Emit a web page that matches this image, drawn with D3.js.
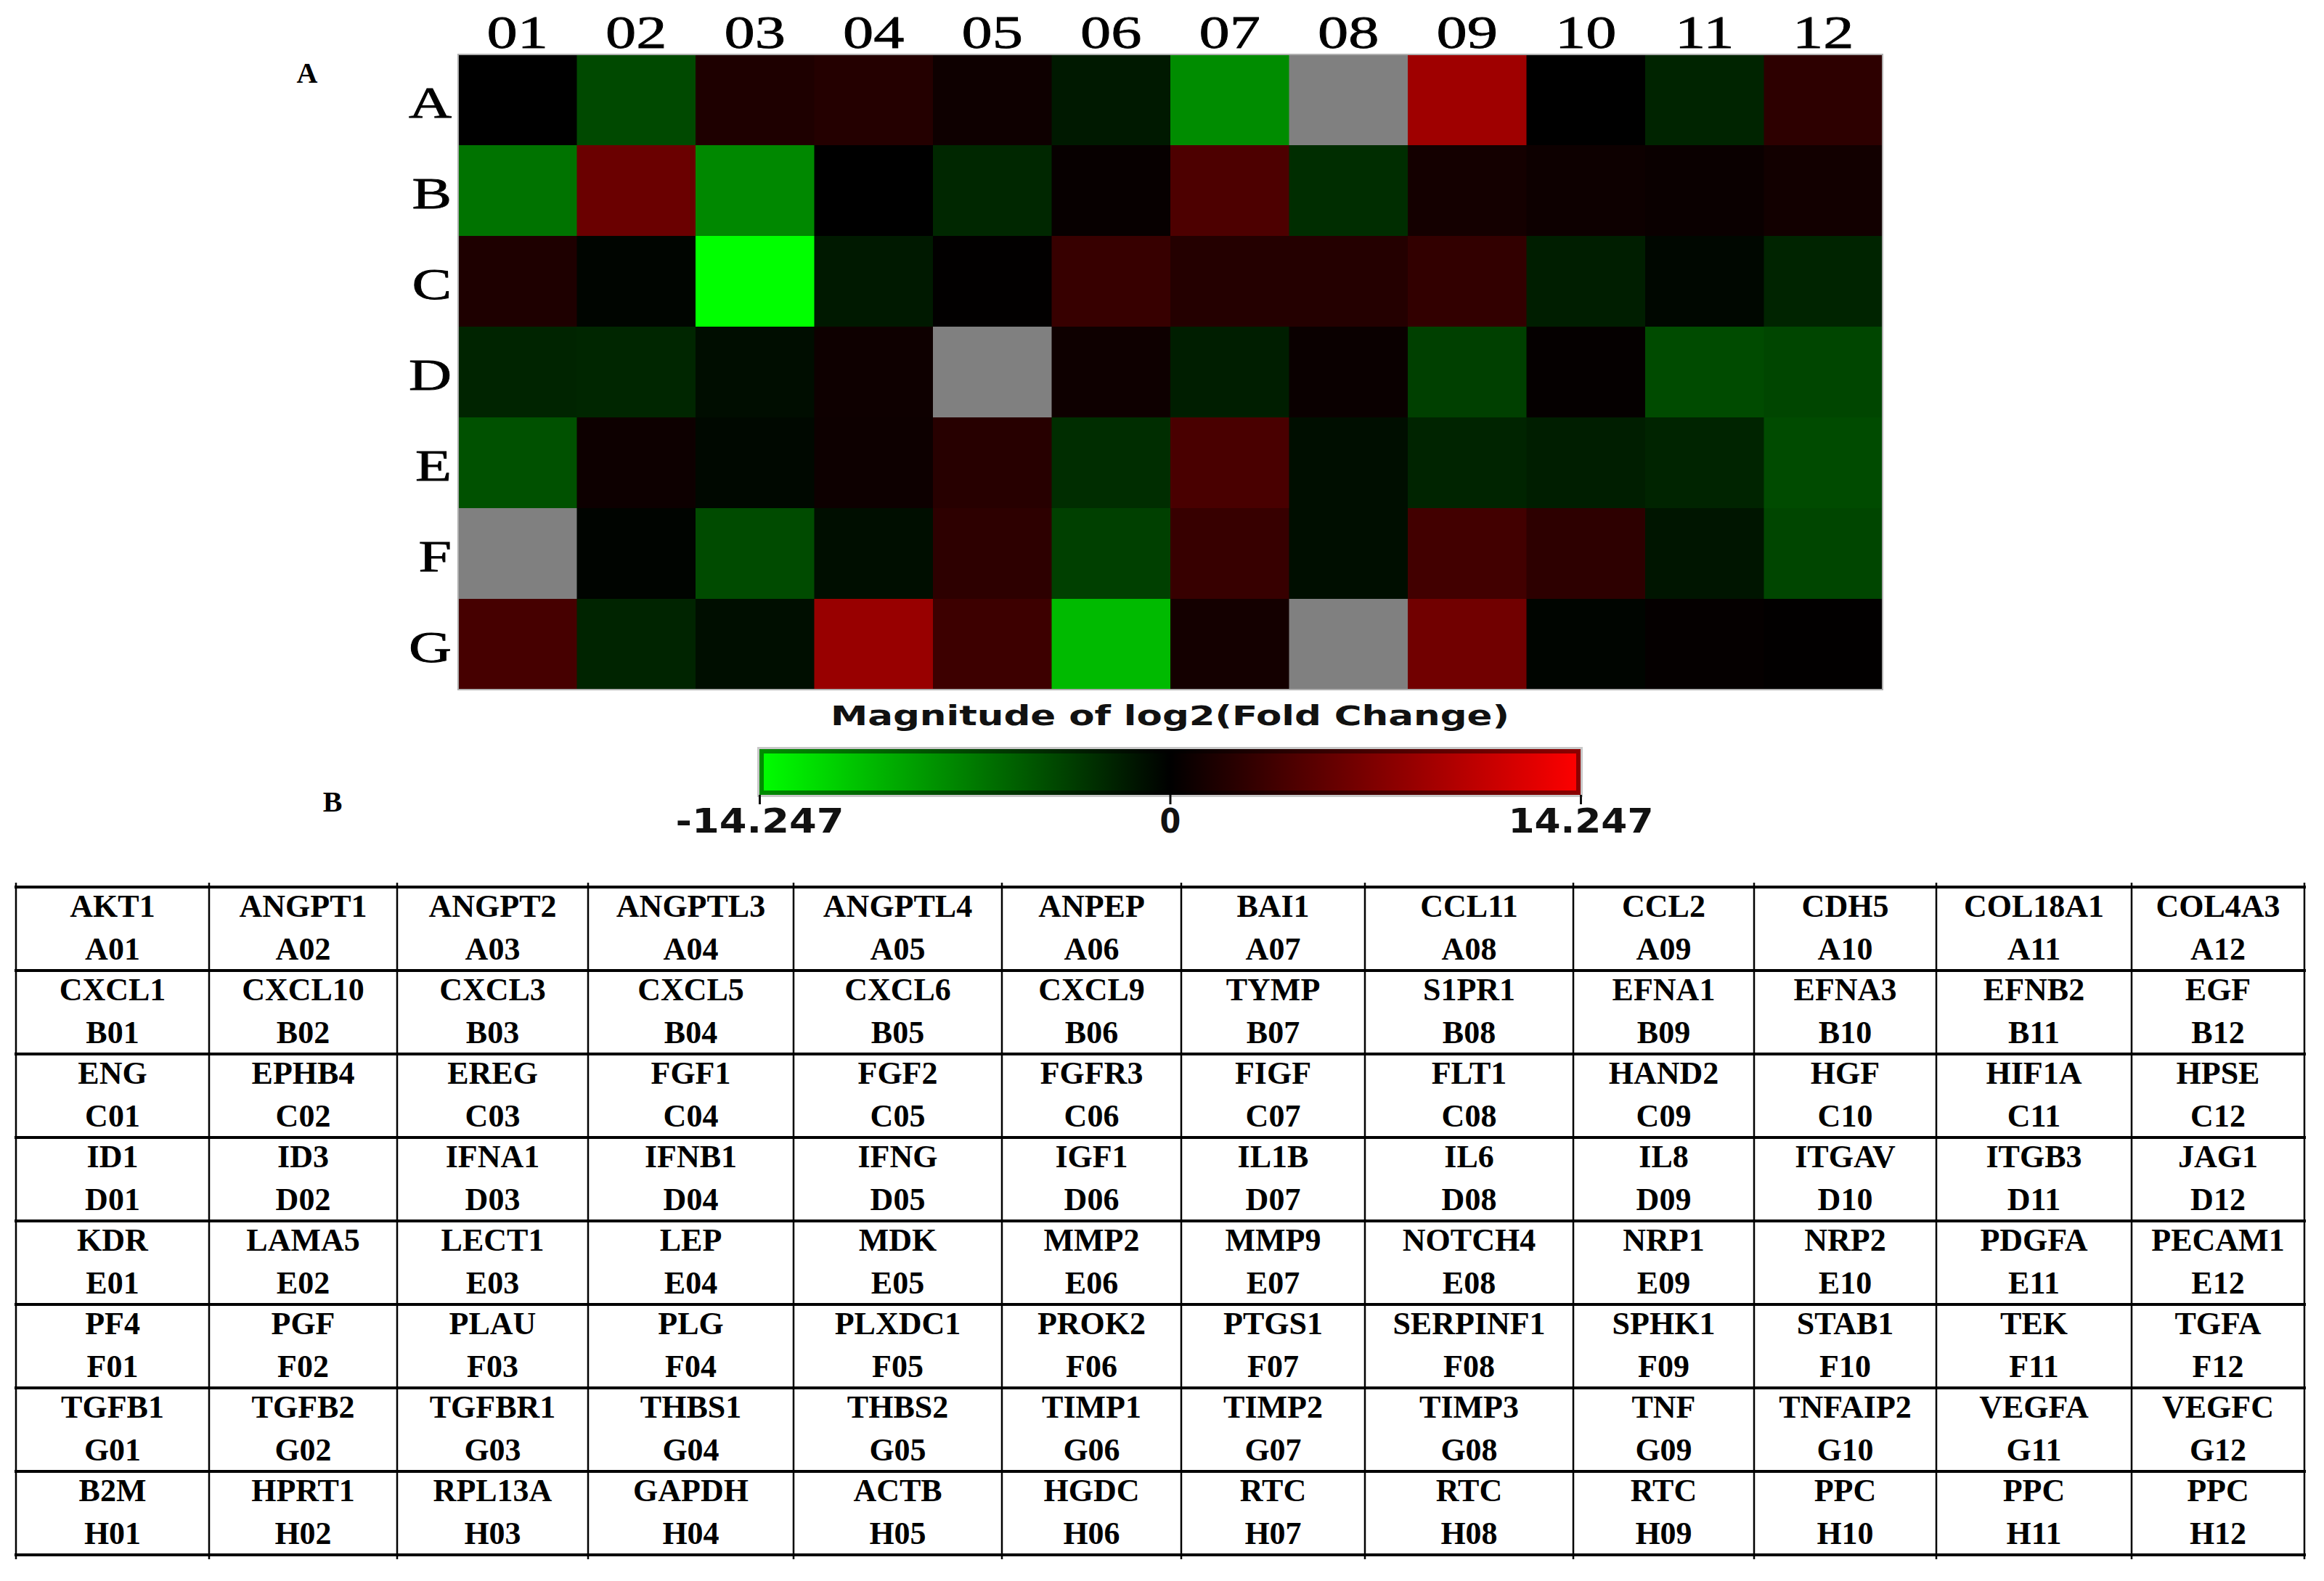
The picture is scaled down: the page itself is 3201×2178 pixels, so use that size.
<!DOCTYPE html>
<html>
<head>
  <meta charset='utf-8' />
  <title>angiogenesis array heatmap</title>
  <style>
    body { margin: 0; background: #fff; }
  </style>
</head>
<body>
<div id="wrapper"></div>
<script src='https://d3js.org/d3.v7.min.js' charset='utf-8'></script>
<script>
// plate layout: rows A-G, columns 01-12
const rowIds = ['A', 'B', 'C', 'D', 'E', 'F', 'G']
const colIds = ['01', '02', '03', '04', '05', '06', '07', '08', '09', '10', '11', '12']

// log2 fold change (null = grey well, no call)
const rowA = [0, -4.1, 1.7, 2.0, 0.8, -1.4, -7.8, null, 8.9, 0, -2.0, 2.5]
const rowB = [-6.4, 5.9, -7.6, 0, -2.2, 0.4, 4.3, -2.5, 1.1, 0.7, 0.55, 1.0]
const rowC = [1.7, -0.3, -14.247, -1.4, 0.1, 3.1, 2.0, 2.0, 2.8, -1.7, -0.4, -2.0]
const rowD = [-2.0, -2.1, -0.7, 0.8, null, 0.8, -1.7, 0.55, -3.6, 0.3, -4.2, -3.9]
const rowE = [-4.5, 0.7, -0.45, 0.7, 2.2, -2.5, 4.1, -0.8, -2.0, -1.7, -2.0, -4.2]
const rowF = [null, -0.2, -4.2, -0.8, 2.5, -3.6, 3.1, -0.8, 3.7, 2.5, -1.2, -3.9]
const rowG = [3.9, -2.0, -0.8, 8.5, 3.4, -10.4, 1.1, null, 6.3, -0.3, 0.3, 0.1]
const foldChange = [rowA, rowB, rowC, rowD, rowE, rowF, rowG]

// colour bar
const colorDomain = [-14.247, 0, 14.247]
const colorbarTicks = [-14.247, 0, 14.247]

// panel B table: gene on each well, rows A-H
const tableRows = ['A', 'B', 'C', 'D', 'E', 'F', 'G', 'H']
const genesA = ['AKT1', 'ANGPT1', 'ANGPT2', 'ANGPTL3', 'ANGPTL4', 'ANPEP', 'BAI1', 'CCL11', 'CCL2', 'CDH5', 'COL18A1', 'COL4A3']
const genesB = ['CXCL1', 'CXCL10', 'CXCL3', 'CXCL5', 'CXCL6', 'CXCL9', 'TYMP', 'S1PR1', 'EFNA1', 'EFNA3', 'EFNB2', 'EGF']
const genesC = ['ENG', 'EPHB4', 'EREG', 'FGF1', 'FGF2', 'FGFR3', 'FIGF', 'FLT1', 'HAND2', 'HGF', 'HIF1A', 'HPSE']
const genesD = ['ID1', 'ID3', 'IFNA1', 'IFNB1', 'IFNG', 'IGF1', 'IL1B', 'IL6', 'IL8', 'ITGAV', 'ITGB3', 'JAG1']
const genesE = ['KDR', 'LAMA5', 'LECT1', 'LEP', 'MDK', 'MMP2', 'MMP9', 'NOTCH4', 'NRP1', 'NRP2', 'PDGFA', 'PECAM1']
const genesF = ['PF4', 'PGF', 'PLAU', 'PLG', 'PLXDC1', 'PROK2', 'PTGS1', 'SERPINF1', 'SPHK1', 'STAB1', 'TEK', 'TGFA']
const genesG = ['TGFB1', 'TGFB2', 'TGFBR1', 'THBS1', 'THBS2', 'TIMP1', 'TIMP2', 'TIMP3', 'TNF', 'TNFAIP2', 'VEGFA', 'VEGFC']
const genesH = ['B2M', 'HPRT1', 'RPL13A', 'GAPDH', 'ACTB', 'HGDC', 'RTC', 'RTC', 'RTC', 'PPC', 'PPC', 'PPC']
const genes = [genesA, genesB, genesC, genesD, genesE, genesF, genesG, genesH]

// layout
const width = 3201
const height = 2178
const heat = { left: 631, right: 2593, top: 75, bottom: 950 }
const bar = { left: 1046, right: 2177, top: 1032, bottom: 1095 }
const tableEdges = [22, 288, 547, 810, 1093, 1380, 1627, 1880, 2167, 2416, 2667, 2936, 3174]
const tableTop = 1222
const tableBottom = 2142
const serif = "'Liberation Serif', 'Times New Roman', serif"
const sans = "'DejaVu Sans Condensed', 'DejaVu Sans', Verdana, sans-serif"

const svg = d3.select('#wrapper').append('svg')
    .attr('width', width)
    .attr('height', height)
    .style('display', 'block')

svg.append('rect').attr('width', width).attr('height', height).attr('fill', '#fff')

const x = d3.scaleBand().domain(colIds).range([heat.left, heat.right])
const y = d3.scaleBand().domain(rowIds).range([heat.top, heat.bottom])
const color = d3.scaleLinear().domain(colorDomain).range(['#00ff00', '#000000', '#ff0000']).clamp(true)

// ---- panel A: heatmap ----
const cells = []
rowIds.forEach((r, i) => {
    colIds.forEach((c, j) => {
        cells.push({ row: r, col: c, value: foldChange[i][j] })
    })
})

svg.append('g').selectAll('rect')
    .data(cells)
    .enter().append('rect')
    .attr('x', d => x(d.col))
    .attr('y', d => y(d.row))
    .attr('width', x.bandwidth() + 0.5)
    .attr('height', y.bandwidth() + 0.5)
    .attr('fill', d => d.value === null ? '#808080' : color(d.value))

svg.append('rect')
    .attr('x', heat.left)
    .attr('y', heat.top)
    .attr('width', heat.right - heat.left)
    .attr('height', heat.bottom - heat.top)
    .attr('fill', 'none')
    .attr('stroke', '#b0b0b0')
    .attr('stroke-width', 2)

// column numbers (stretched sideways like the original image)
svg.append('g').selectAll('text')
    .data(colIds)
    .enter().append('text')
    .attr('transform', d => `translate(${x(d) + x.bandwidth() / 2},66) scale(1.32,1)`)
    .attr('text-anchor', 'middle')
    .attr('font-family', serif)
    .attr('font-size', 64)
    .attr('fill', '#000')
    .attr('stroke', '#000').attr('stroke-width', 0.8)
    .text(d => d)

// row letters
svg.append('g').selectAll('text')
    .data(rowIds)
    .enter().append('text')
    .attr('transform', d => `translate(622,${y(d) + y.bandwidth() / 2 + 24}) scale(1.32,1)`)
    .attr('text-anchor', 'end')
    .attr('font-family', serif)
    .attr('font-size', 62)
    .attr('fill', '#000')
    .attr('stroke', '#000').attr('stroke-width', 0.8)
    .text(d => d)

// panel letters
svg.append('text')
    .attr('x', 423).attr('y', 114)
    .attr('text-anchor', 'middle')
    .attr('font-family', serif).attr('font-weight', 'bold').attr('font-size', 40)
    .text('A')
svg.append('text')
    .attr('x', 458).attr('y', 1118)
    .attr('text-anchor', 'middle')
    .attr('font-family', serif).attr('font-weight', 'bold').attr('font-size', 40)
    .text('B')

// ---- colour bar ----
svg.append('text')
    .attr('x', (bar.left + bar.right) / 2)
    .attr('y', 999)
    .attr('text-anchor', 'middle')
    .attr('font-family', sans).attr('font-weight', 'bold').attr('font-size', 37)
    .attr('textLength', 935).attr('lengthAdjust', 'spacingAndGlyphs')
    .attr('fill', '#111')
    .text('Magnitude of log2(Fold Change)')

const cb = d3.scaleLinear().domain([colorDomain[0], colorDomain[2]]).range([bar.left, bar.right])

const grad = svg.append('defs').append('linearGradient')
    .attr('id', 'fcgrad')
    .attr('x1', '0%').attr('x2', '100%').attr('y1', '0%').attr('y2', '0%')
grad.selectAll('stop')
    .data(d3.range(0, 1.0001, 0.05))
    .enter().append('stop')
    .attr('offset', d => (d * 100) + '%')
    .attr('stop-color', d => color(cb.invert(bar.left + d * (bar.right - bar.left))))

svg.append('rect')
    .attr('x', bar.left - 3).attr('y', bar.top - 3)
    .attr('width', bar.right - bar.left + 6).attr('height', bar.bottom - bar.top + 6)
    .attr('fill', '#c8c8c8')
svg.append('rect')
    .attr('x', bar.left).attr('y', bar.top)
    .attr('width', bar.right - bar.left).attr('height', bar.bottom - bar.top)
    .attr('fill', 'url(#fcgrad)')
svg.append('rect')
    .attr('x', bar.left + 3).attr('y', bar.top + 3)
    .attr('width', bar.right - bar.left - 6).attr('height', bar.bottom - bar.top - 6)
    .attr('fill', 'none')
    .attr('stroke', '#000').attr('stroke-opacity', 0.45).attr('stroke-width', 6)

const barAxis = svg.append('g')
    .attr('transform', `translate(0,${bar.bottom})`)
    .call(d3.axisBottom(cb)
        .tickValues(colorbarTicks)
        .tickSize(13)
        .tickPadding(6)
        .tickFormat(d => d === 0 ? '0' : String(d)))
barAxis.select('.domain').remove()
barAxis.selectAll('.tick line').attr('stroke', '#111').attr('stroke-width', 3)
barAxis.selectAll('.tick text')
    .attr('font-family', sans).attr('font-weight', 'bold').attr('font-size', 46)
    .attr('fill', '#111')
    .attr('dy', '0.72em')
    .each(function(d) {
        if (d !== 0) {
            d3.select(this)
                .attr('textLength', d < 0 ? 232 : 200)
                .attr('lengthAdjust', 'spacingAndGlyphs')
        }
    })

// ---- panel B: gene table ----
const ty = d3.scaleBand().domain(tableRows).range([tableTop, tableBottom])
const tableCells = []
tableRows.forEach((r, i) => {
    colIds.forEach((c, j) => {
        tableCells.push({ row: r, col: j, gene: genes[i][j], well: r + c })
    })
})

const tcell = svg.append('g').selectAll('g')
    .data(tableCells)
    .enter().append('g')
    .attr('transform', d => `translate(${(tableEdges[d.col] + tableEdges[d.col + 1]) / 2},${ty(d.row)})`)

tcell.append('text')
    .attr('y', 41)
    .attr('text-anchor', 'middle')
    .attr('font-family', serif).attr('font-weight', 'bold').attr('font-size', 44)
    .text(d => d.gene)
tcell.append('text')
    .attr('y', 100)
    .attr('text-anchor', 'middle')
    .attr('font-family', serif).attr('font-weight', 'bold').attr('font-size', 44)
    .text(d => d.well)

// grid lines
const grid = svg.append('g').attr('stroke', '#000')
grid.selectAll('line.h')
    .data(tableRows.map(r => ty(r)).concat([tableBottom]))
    .enter().append('line')
    .attr('class', 'h')
    .attr('x1', tableEdges[0] - 2).attr('x2', tableEdges[tableEdges.length - 1] + 2)
    .attr('y1', d => d).attr('y2', d => d)
    .attr('stroke-width', 4)
grid.selectAll('line.v')
    .data(tableEdges)
    .enter().append('line')
    .attr('class', 'v')
    .attr('x1', d => d).attr('x2', d => d)
    .attr('y1', tableTop - 6).attr('y2', tableBottom + 6)
    .attr('stroke-width', 2.5)
</script>
</body>
</html>
